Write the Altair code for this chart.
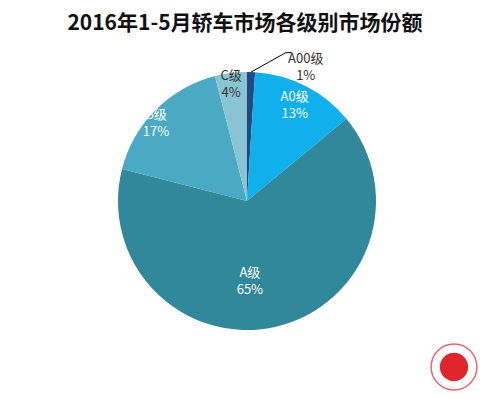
import math
import altair as alt
import pandas as pd

categories = ["A00级", "A0级", "A级", "B级", "C级"]
shares = [1, 13, 65, 17, 4]
colors = ["#1F4A82", "#0FB0EC", "#30889A", "#4AAAC3", "#8AC3D2"]
title_text = "2016年1-5月轿车市场各级别市场份额"

df = pd.DataFrame({
    "cat": categories,
    "value": shares,
    "order": list(range(len(categories))),
})
df["label"] = [f"{c}\n{v}%" for c, v in zip(categories, shares)]
total = sum(shares)

W, H = 472, 383
CX, CY, R = 239, 193, 129
FONT = "Noto Sans CJK SC"

color = alt.Color("cat:N", scale=alt.Scale(domain=categories, range=colors), legend=None)

pie = alt.Chart(df).mark_arc(outerRadius=R).encode(
    theta=alt.Theta("value:Q", stack=True, scale=alt.Scale(domain=[0, total], range=[0, 2 * math.pi])),
    order=alt.Order("order:Q"),
    color=color,
    x=alt.value(CX),
    y=alt.value(CY),
)


def label_layer(cat, radius, fill, theta_offset=0.0):
    return alt.Chart(df).transform_window(
        cum="sum(value)", sort=[alt.SortField("order")], frame=[None, 0]
    ).transform_calculate(
        mid="datum.cum - datum.value / 2"
    ).transform_filter(alt.datum.cat == cat).mark_text(
        radius=radius,
        thetaOffset=theta_offset,
        font=FONT,
        fontSize=13,
        lineBreak="\n",
        lineHeight=17,
        fill=fill,
        align="center",
        baseline="middle",
    ).encode(
        theta=alt.Theta("mid:Q", scale=alt.Scale(domain=[0, total], range=[0, 2 * math.pi])),
        text="label:N",
        x=alt.value(CX),
        y=alt.value(CY),
    )


labels = [
    label_layer("A0级", 114, "white", -0.04),
    label_layer("A级", 72, "white", 0.18),
    label_layer("B级", 125, "white", -0.03),
    label_layer("C级", 126, "#333333"),
    label_layer("A00级", 154, "#333333", 0.36),
]

# leader line for A00 computed from slice mid-angle
mid = 2 * math.pi * (shares[0] / 2) / total
p1 = (CX + R * math.sin(mid), CY - R * math.cos(mid))
lab_ang = mid + 0.36
lab = (CX + 154 * math.sin(lab_ang), CY - 154 * math.cos(lab_ang))
p2 = (lab[0] - 20, lab[1] - 6)
leader_df = pd.DataFrame({"x": [p1[0], p2[0], p2[0] + 6], "y": [p1[1], p2[1], p2[1]], "i": [0, 1, 2]})
leader = alt.Chart(leader_df).mark_line(color="#000000", strokeWidth=1).encode(
    x=alt.X("x:Q", scale=None),
    y=alt.Y("y:Q", scale=None),
    order="i:Q",
)

title = alt.Chart(pd.DataFrame({"t": [title_text]})).mark_text(
    font=FONT, fontSize=21, fontWeight="bold", color="#111111", align="center", baseline="middle"
).encode(x=alt.value(W / 2 + 1), y=alt.value(16), text="t:N")

logo_outer = alt.Chart(pd.DataFrame({"a": [1]})).mark_point(
    shape="circle", size=2100, filled=False, color="#E0262C", strokeWidth=1.5
).encode(x=alt.value(446), y=alt.value(359))
logo_inner = alt.Chart(pd.DataFrame({"a": [1]})).mark_point(
    shape="circle", size=800, filled=True, color="#E0262C", opacity=1
).encode(x=alt.value(446), y=alt.value(359))

chart = alt.layer(pie, *labels, leader, title, logo_outer, logo_inner).resolve_scale(
    theta="independent"
).properties(
    width=W, height=H, padding=0, autosize=alt.AutoSizeParams(type="none")
).configure(background="white", view=alt.ViewConfig(stroke=None))

chart.save("out.html", embed_options={"renderer": "svg", "actions": False})
